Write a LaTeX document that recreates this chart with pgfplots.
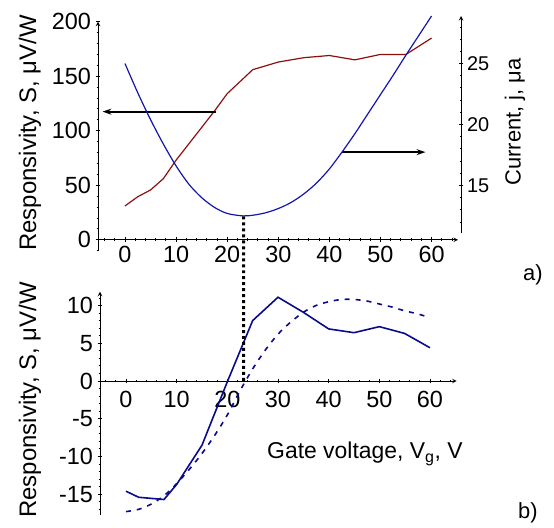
\documentclass[border=0pt]{standalone}
\usepackage{fontspec}
\setmainfont{Liberation Sans}
\usepackage{pgfplots}
\pgfplotsset{compat=1.18}
\usetikzlibrary{arrows.meta}
\definecolor{cblue}{RGB}{20,20,175}
\definecolor{cred}{RGB}{140,15,15}
\definecolor{cnavy}{RGB}{10,10,140}

\pgfplotsset{
  myaxis/.style={
    scale only axis, anchor=south west,
    /pgf/number format/assume math mode=true,
    tick label style={font=\fontsize{23.5}{23.5}\selectfont},
    axis line style={line width=1pt,-},
    every inner x axis line/.append style={-},
    every outer x axis line/.append style={-},
    every inner y axis line/.append style={-},
    every outer y axis line/.append style={-},
    major tick length=5pt, minor tick length=2.6pt,
    every tick/.style={black, line width=0.9pt},
    tick align=outside,
    hide obscured x ticks=false, hide obscured y ticks=false,
    clip=false,
  }
}

\begin{document}
\begin{tikzpicture}
\useasboundingbox (0,0) rectangle (554bp,528bp);

% ---- top: responsivity (left axis), red
\begin{axis}[myaxis, at={(98bp,277.3bp)}, width=360bp, height=229bp,
  xmin=-5.28, xmax=65.17, ymin=-10, ymax=200,
  axis x line=middle, axis y line=left,
  xtick={0,10,...,60}, minor xtick={-4,-2,...,64},
  ytick={0,50,...,200}, minor ytick={-10,0,...,200},
  yticklabel style={xshift=-1pt}]
\addplot[cred, line width=1.2pt] coordinates {
(0,31) (2.5,39.5) (5,45.7) (7.5,56) (10,73) (12.5,88) (15,103) (17.5,118)
(20,134) (22.5,145) (25,156) (30,163) (35,167) (40,169) (45,165) (50,170)
(55,170) (60,185)};
\draw[-{Stealth[length=9pt,width=6pt]}, line width=1.9pt] (axis cs:17.9,117.5) -- (axis cs:-4.4,117.5);
\draw[-{Stealth[length=9pt,width=6pt]}, line width=1.9pt] (axis cs:42.4,80.4) -- (axis cs:58.8,80.4);
\coordinate (dtop) at (axis cs:23.2,21.4);
\end{axis}

% ---- top: current (right axis), blue
\begin{axis}[myaxis, at={(98bp,294.7bp)}, width=363bp, height=217.3bp,
  xmin=-5.28, xmax=65.76, ymin=11.07, ymax=28.9,
  axis x line=none, axis y line=right,
  ytick={15,20,25}, minor ytick={11,...,28},
  yticklabel style={font=\fontsize{20}{20}\selectfont}]
\addplot[cblue, line width=1.2pt, smooth] coordinates {
(0,25.0) (2.5,22.6) (5,20.4) (7.5,18.4) (10,16.6) (12.5,15.1) (15,14.0)
(17.5,13.2) (20,12.7) (23,12.5) (25,12.55) (27.5,12.75) (30,13.1) (32.5,13.6)
(35,14.3) (37.5,15.2) (40,16.35) (42.5,17.75) (45,19.25) (47.5,20.85) (50,22.45)
(52.5,24.05) (55,25.7) (57.5,27.3) (60,28.9)};
\end{axis}

% ---- bottom
\begin{axis}[myaxis, at={(100bp,13bp)}, width=356.7bp, height=223.3bp,
  xmin=-5.13, xmax=65.27, ymin=-17.75, ymax=11.83,
  axis x line=middle, axis y line=left,
  xtick={0,10,...,60}, minor xtick={-4,-2,...,64},
  ytick={-15,-10,...,10}, minor ytick={-17,...,11},
  xticklabel style={yshift=-4pt}, yticklabel style={xshift=-1pt}]
\addplot[cnavy, line width=1.6pt] coordinates {
(0,-14.6) (2.5,-15.4) (5,-15.55) (7.5,-15.7) (10,-13.7) (15,-8.5) (20,-0.1)
(25,8.0) (30,11.1) (35,9.1) (40,6.9) (45,6.4) (50,7.2) (55,6.3) (60,4.4)};
\addplot[cnavy, line width=1.6pt, dash pattern=on 5pt off 6pt, smooth] coordinates {
(0,-17.3) (2.5,-17.0) (5,-16.3) (7.5,-15.2) (10,-13.6) (12.5,-11.7) (15,-9.6)
(17.5,-7.2) (20,-4.5) (22.5,-1.3) (25,1.6) (27.5,4.1) (30,6.2) (32.5,7.8)
(35,9.1) (37.5,10.0) (40,10.5) (42.5,10.8) (45,10.8) (47.5,10.6) (50,10.2)
(52.5,9.8) (55,9.3) (57.5,8.9) (60,8.4)};
\coordinate (dbot) at (axis cs:23.2,0);
\end{axis}

\draw[line width=3pt, dash pattern=on 3pt off 3pt] (dtop) -- (dbot);

\node[rotate=90, font=\fontsize{24}{24}\selectfont] at (30bp,395bp) {Responsivity, S, μV/W};
\node[rotate=90, font=\fontsize{24}{24}\selectfont] at (30bp,128bp) {Responsivity, S, μV/W};
\node[rotate=90, font=\fontsize{22}{22}\selectfont] at (515bp,406bp) {Current, j, μa};
\node[anchor=base west, inner sep=0pt, font=\fontsize{23}{23}\selectfont] at (267bp,69bp) {Gate voltage, V\textsubscript{g}, V};
\node[anchor=base west, inner sep=0pt, font=\fontsize{22}{22}\selectfont] at (523bp,247bp) {a)};
\node[anchor=base west, inner sep=0pt, font=\fontsize{22}{22}\selectfont] at (518bp,10bp) {b)};
\end{tikzpicture}
\end{document}
